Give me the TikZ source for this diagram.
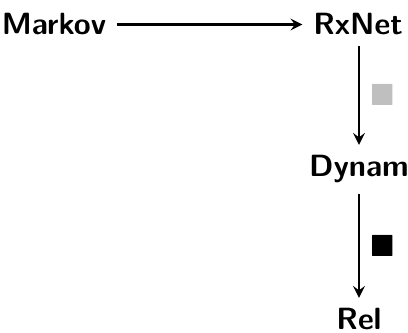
\documentclass[tikz,border=0pt]{standalone}
\usepackage{amssymb}
\usepackage{tikz}

\begin{document}
\begin{tikzpicture}[x=0.3257pt,y=-0.3257pt,
    every node/.style={font=\sffamily\bfseries},
    arr/.style={-stealth,line width=0.7pt}]
    \useasboundingbox (0,0) rectangle (408,333);
    \node [anchor=base] (markov) at (54,35) {Markov};
    \node [anchor=base] (rxnet) at (358,35) {RxNet};
    \node [anchor=base] (dynam) at (359,177) {Dynam};
    \node [anchor=base] (rel) at (359,330) {Rel};
    \draw [arr] (markov) -- (rxnet);
    \draw [arr] (rxnet.south -| dynam) -- node [right,text=gray!50] {$\blacksquare$} (dynam);
    \draw [arr] (dynam) -- node [right] {$\blacksquare$} (rel);
\end{tikzpicture}
\end{document}
